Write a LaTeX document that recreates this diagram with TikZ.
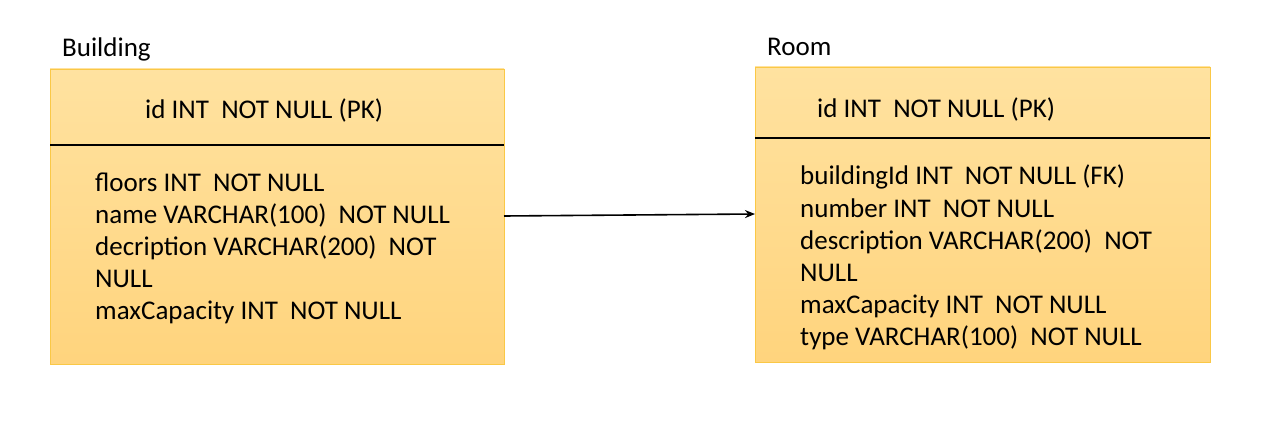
\documentclass[tikz,border=0pt]{standalone}
\usepackage{fontspec}
\setmainfont{Carlito}
\usetikzlibrary{arrows.meta}
\definecolor{boxtop}{RGB}{255,226,160}
\definecolor{boxbot}{RGB}{255,212,125}
\definecolor{boxline}{RGB}{250,200,70}
\tikzset{
  x=1pt, y=-1pt,
  tablebox/.style={draw=boxline, line width=0.8pt, top color=boxtop, bottom color=boxbot},
  divider/.style={draw=black, line width=1.6pt},
  txt/.style={anchor=base west, inner sep=0pt, font=\fontsize{27}{32}\selectfont},
  title/.style={anchor=base west, inner sep=0pt, font=\fontsize{27}{32}\selectfont},
  link/.style={draw=black, line width=1.6pt, -{Stealth[length=10pt,width=8pt]}}
}
\begin{document}
\begin{tikzpicture}
\useasboundingbox (0,0) rectangle (1280,433);
% Building
\node[title] (btitle) at (62,57) {Building};
\path[tablebox] (50,69) rectangle (504,364);
\coordinate (bE) at (504,216);
\draw[divider] (50,145) -- (504,145);
\node[txt] (bpk) at (145,119) {id INT\ \ NOT NULL (PK)};
\node[txt] (b1) at (95,191) {floors INT\ \ NOT NULL};
\node[txt] (b2) at (95,223) {name VARCHAR(100)\ \ NOT NULL};
\node[txt] (b3) at (95,255) {decription VARCHAR(200)\ \ NOT};
\node[txt] (b4) at (95,287) {NULL};
\node[txt] (b5) at (95,319) {maxCapacity INT\ \ NOT NULL};
% Room
\node[title] (rtitle) at (767,56) {Room};
\path[tablebox] (755,67) rectangle (1210,362);
\coordinate (rW) at (755,214);
\draw[divider] (755,138) -- (1210,138);
\node[txt] (rpk) at (817,118) {id INT\ \ NOT NULL (PK)};
\node[txt] (r1) at (800,185) {buildingId INT\ \ NOT NULL (FK)};
\node[txt] (r2) at (800,217) {number INT\ \ NOT NULL};
\node[txt] (r3) at (800,249) {description VARCHAR(200)\ \ NOT};
\node[txt] (r4) at (800,281) {NULL};
\node[txt] (r5) at (800,313) {maxCapacity INT\ \ NOT NULL};
\node[txt] (r6) at (800,345) {type VARCHAR(100)\ \ NOT NULL};
% connector
\draw[link] (bE) -- (rW);
\end{tikzpicture}
\end{document}
